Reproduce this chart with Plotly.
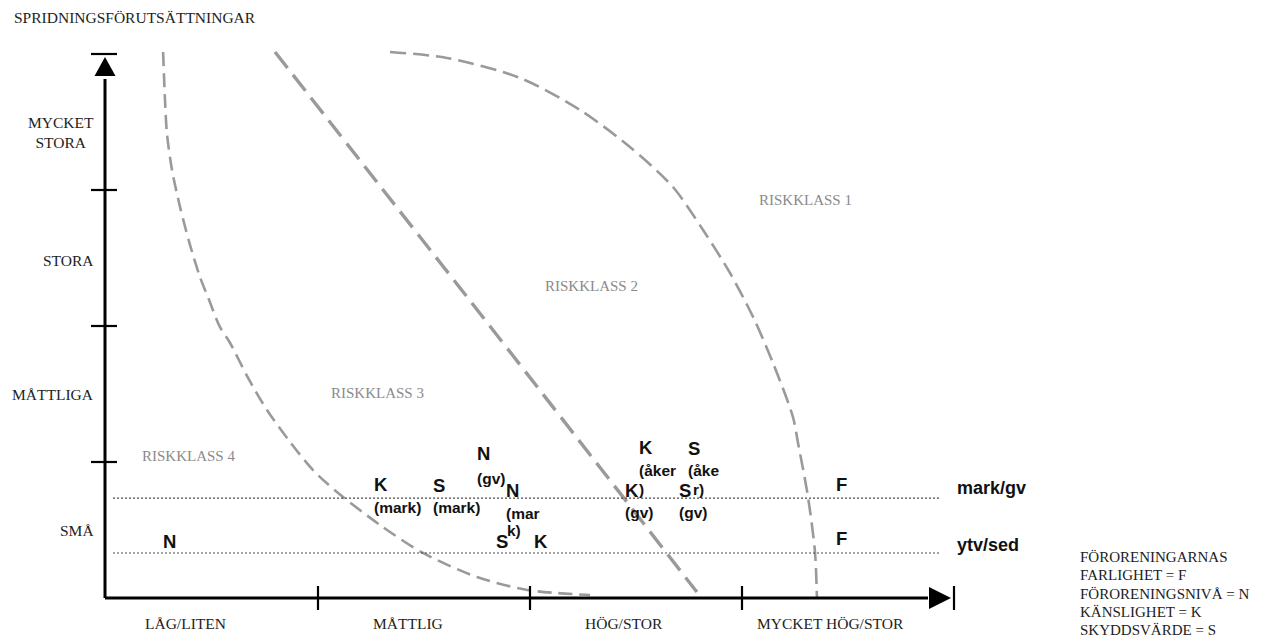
import plotly.graph_objects as go

# ---------------- data (chart units: x = 0..4 class steps, y = 0..4 class steps) ----------------
x_categories = ["LÅG/LITEN", "MÅTTLIG", "HÖG/STOR", "MYCKET HÖG/STOR"]
x_category_pos = [0.382, 1.429, 2.448, 3.42]
y_categories = ["SMÅ", "MÅTTLIGA", "STORA", "MYCKET<br>STORA"]
y_category_pos = [0.5, 1.5, 2.48, 3.42]
x_ticks = [1, 2, 3, 4]
y_ticks = [1, 2, 3, 4]

# risk-class boundaries (dashed curves)
b43_x = [0.274, 0.283, 0.292, 0.316, 0.354, 0.401, 0.448, 0.491, 0.542, 0.590, 0.675, 0.764,
         0.873, 0.981, 1.094, 1.297, 1.500, 1.755, 1.991, 2.288]
b43_y = [4.015, 3.662, 3.419, 3.147, 2.875, 2.596, 2.360, 2.191, 1.993, 1.875, 1.618, 1.382,
         1.147, 0.941, 0.779, 0.537, 0.331, 0.154, 0.059, 0.022]
b32_x = [0.802, 1.312, 1.790, 2.792]
b32_y = [4.015, 3.000, 2.050, 0.044]
b21_x = [1.344, 1.613, 1.958, 2.241, 2.476, 2.679, 2.821, 2.948, 3.057, 3.151, 3.245, 3.269,
         3.316, 3.349, 3.358]
b21_y = [4.015, 3.971, 3.824, 3.588, 3.316, 3.022, 2.706, 2.390, 2.066, 1.728, 1.331, 1.140,
         0.743, 0.338, 0.007]

risk_labels = ["RISKKLASS 1", "RISKKLASS 2", "RISKKLASS 3", "RISKKLASS 4"]
risk_x = [3.302, 2.297, 1.283, 0.396]
risk_y = [2.926, 2.294, 1.507, 1.044]

# media levels (dotted lines)
level_names = ["mark/gv", "ytv/sed"]
level_y = [0.735, 0.331]
level_label_y = [0.809, 0.390]
level_x_start = 0.038
level_x_end = 3.939

# assessed parameters: letters
letters = ["N", "K", "S", "N", "N", "S", "K", "K", "S", "K", "S", "F", "F"]
letter_x = [0.269, 1.264, 1.542, 1.750, 1.887, 1.840, 2.019, 2.514, 2.745, 2.448, 2.703, 3.443, 3.443]
letter_y = [0.419, 0.831, 0.824, 1.059, 0.794, 0.419, 0.419, 1.103, 1.096, 0.794, 0.794, 0.838, 0.441]
# their media qualifiers
sub_text = ["(mark)", "(mark)", "(gv)", "(mar", "k)", "(åker", ")", "(åke", "r)", "(gv)", "(gv)"]
sub_x = [1.264, 1.542, 1.750, 1.887, 1.892, 2.514, 2.514, 2.745, 2.770, 2.448, 2.703]
sub_y = [0.669, 0.669, 0.882, 0.625, 0.500, 0.941, 0.801, 0.941, 0.801, 0.632, 0.632]

legend_lines = ["FÖRORENINGARNAS", "FARLIGHET = F", "FÖRORENINGSNIVÅ = N",
                "KÄNSLIGHET = K", "SKYDDSVÄRDE = S"]
title_text = "SPRIDNINGSFÖRUTSÄTTNINGAR"

# ---------------- geometry / style ----------------
W, H = 1278, 643
PX_X, PX_Y = 212.0, 136.0          # pixels per class step
X0_PX, Y0_PX = 105.0, 598.0        # pixel position of the origin
X_MAX, Y_MAX = 4.0, 4.0

def dx(px):
    return px / PX_X

def dy(px):
    return px / PX_Y

x_range = [-X0_PX / PX_X, (W - X0_PX) / PX_X]
y_range = [-(H - Y0_PX) / PX_Y, Y0_PX / PX_Y]

SERIF = "Liberation Serif, Times New Roman, serif"
SANS = "Liberation Sans, Arial, sans-serif"
GRAY = "#9a9a9a"

fig = go.Figure()

# boundary curves
for bx, by, w, dash in [(b43_x, b43_y, 2.6, "14px,7px"),
                        (b32_x, b32_y, 3.4, "20px,9px"),
                        (b21_x, b21_y, 2.6, "16px,7px")]:
    fig.add_trace(go.Scatter(x=bx, y=by, mode="lines",
                             line=dict(color=GRAY, width=w, dash=dash, shape="spline", smoothing=0.8),
                             hoverinfo="skip", showlegend=False))

# dotted level lines
for ly in level_y:
    fig.add_trace(go.Scatter(x=[level_x_start, level_x_end], y=[ly, ly], mode="lines",
                             line=dict(color="#444444", width=1.2, dash="2px,2px"),
                             hoverinfo="skip", showlegend=False))

shapes = []
AX = dict(color="black", width=3)
TK = dict(color="black", width=2.2)
# axes lines
shapes.append(dict(type="line", xref="x", yref="y", x0=0, y0=0, x1=0, y1=Y_MAX - dy(25), line=AX))
shapes.append(dict(type="line", xref="x", yref="y", x0=0, y0=0, x1=X_MAX - dx(25), y1=0, line=AX))
# ticks
for t in x_ticks:
    shapes.append(dict(type="line", xref="x", yref="y", x0=t + dx(1), x1=t + dx(1),
                       y0=-dy(12), y1=dy(12), line=TK))
for t in y_ticks:
    shapes.append(dict(type="line", xref="x", yref="y", x0=-dx(14), x1=dx(12),
                       y0=t, y1=t, line=TK))
# arrow heads
ax_tip, ax_base, ax_half = X_MAX - dx(2), X_MAX - dx(24), dy(11)
shapes.append(dict(type="path", xref="x", yref="y", fillcolor="black", line=dict(width=0),
                   path=f"M {ax_tip} 0 L {ax_base} {ax_half} L {ax_base} {-ax_half} Z"))
ay_tip, ay_base, ay_half = Y_MAX - dy(3), Y_MAX - dy(22), dx(10.5)
shapes.append(dict(type="path", xref="x", yref="y", fillcolor="black", line=dict(width=0),
                   path=f"M 0 {ay_tip} L {ay_half} {ay_base} L {-ay_half} {ay_base} Z"))

annotations = []

def ann(text, x, y, size, family=SERIF, color="#222222", xanchor="center", yanchor="middle"):
    annotations.append(dict(text=text, x=x, y=y, xref="x", yref="y", showarrow=False,
                            xanchor=xanchor, yanchor=yanchor, borderpad=0,
                            font=dict(family=family, size=size, color=color)))

ann(title_text, -dx(92.5), Y_MAX + dy(37), 15.5, xanchor="left")
for lab, xp in zip(x_categories, x_category_pos):
    ann(lab, xp, -dy(25), 15.5)
for lab, yp in zip(y_categories, y_category_pos):
    ann(lab, -dx(10), yp, 15.5, xanchor="right")
for lab, xp, yp in zip(risk_labels, risk_x, risk_y):
    ann(lab, xp, yp, 15, color="#8a8a8a")
for t, xp, yp in zip(letters, letter_x, letter_y):
    ann(f"<b>{t}</b>", xp, yp, 18.5, family=SANS, color="#111111", xanchor="left")
for t, xp, yp in zip(sub_text, sub_x, sub_y):
    ann(f"<b>{t}</b>", xp, yp, 15.5, family=SANS, color="#111111", xanchor="left")
for name, ly in zip(level_names, level_label_y):
    ann(f"<b>{name}</b>", X_MAX + dx(3), ly, 18, family=SANS, color="#111111", xanchor="left")
leg_x = X_MAX + dx(126)
leg_y0 = dy(41)
for i, line in enumerate(legend_lines):
    ann(line, leg_x, leg_y0 - i * dy(18.3), 15, xanchor="left")

fig.update_layout(
    width=W, height=H, margin=dict(l=0, r=0, t=0, b=0, pad=0),
    paper_bgcolor="white", plot_bgcolor="white",
    xaxis=dict(range=x_range, visible=False, fixedrange=True),
    yaxis=dict(range=y_range, visible=False, fixedrange=True),
    shapes=shapes, annotations=annotations, showlegend=False,
)

fig.write_html("out.html", config={"displayModeBar": False},
               post_script="document.body.style.margin='0';document.body.style.overflow='hidden';")
